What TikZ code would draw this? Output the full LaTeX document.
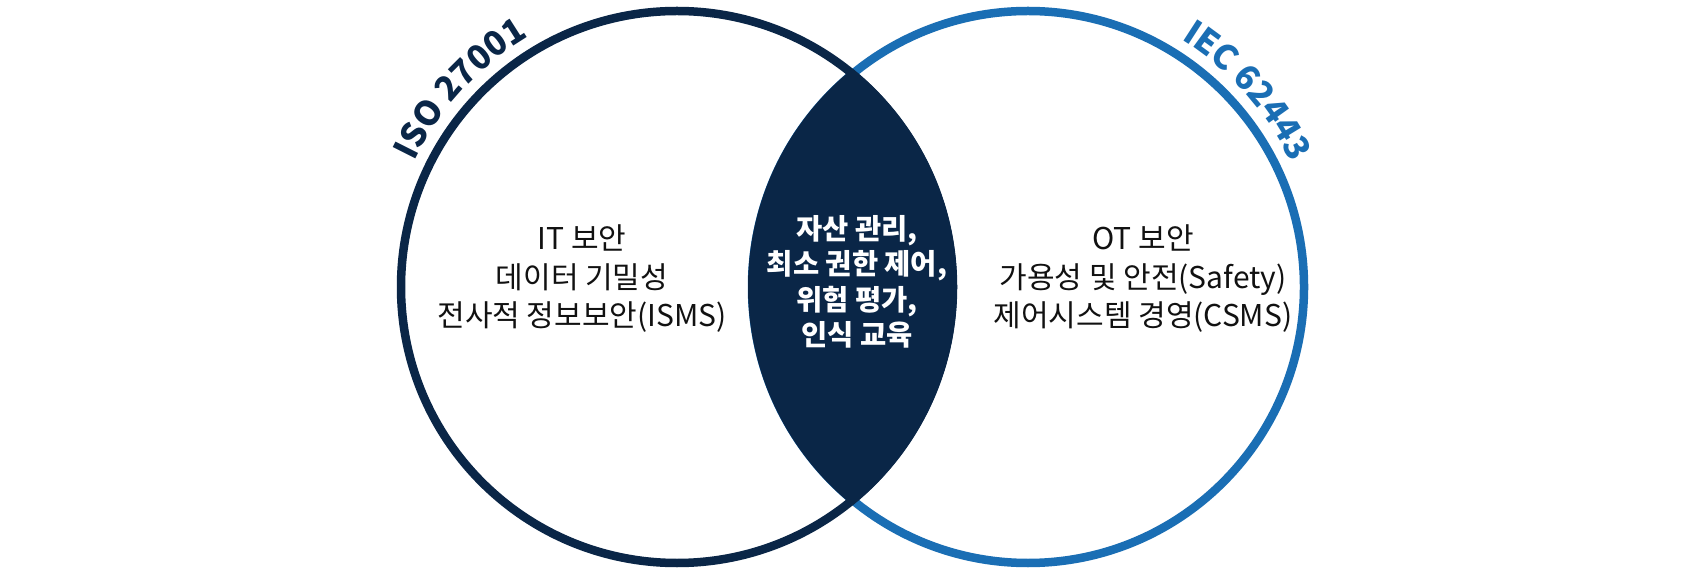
\documentclass[tikz,border=0pt]{standalone}
\usepackage{fontspec}
\setmainfont{Noto Sans CJK KR}
\usetikzlibrary{decorations.text}
\definecolor{navy}{HTML}{0A2647}
\definecolor{itblue}{HTML}{1A6EB4}
\definecolor{ink}{HTML}{111111}
\tikzset{
  ring/.style={circle, line width=8.5pt, minimum size=552pt, inner sep=0pt, fill=none},
  sidetext/.style={align=center, text=ink, font=\fontsize{30}{38.5}\selectfont, inner sep=0pt},
  midtext/.style={align=center, text=white, font=\bfseries\fontsize{28.5}{35.5}\selectfont, inner sep=0pt},
}
\begin{document}
\begin{tikzpicture}[x=1pt,y=1pt]
\useasboundingbox (0,0) rectangle (1707,576);
\fill[white] (0,0) rectangle (1707,576);
\node[ring, draw=itblue] (R) at (1028,289) {};
\node[ring, draw=navy] (L) at (677,289) {};
\begin{scope}
  \clip (L.center) circle[radius=280pt];
  \fill[navy] (R.center) circle[radius=280pt];
\end{scope}
\node[sidetext] (lt) at (582,297) {IT 보안\\데이터 기밀성\\전사적 정보보안(ISMS)};
\node[sidetext] (rt) at (1143,297) {OT 보안\\가용성 및 안전(Safety)\\제어시스템 경영(CSMS)};
\node[midtext] (mt) at (857,294) {자산 관리,\\최소 권한 제어,\\위험 평가,\\인식 교육};
\path[decorate, decoration={text along path, text align=center, text color=navy,
  text={|\bfseries\fontsize{34}{34}\selectfont|ISO 27001}}]
  ([shift={(165:291pt)}]L.center) arc[start angle=165, end angle=110, radius=291pt];
\path[decorate, decoration={text along path, text align=center, text color=itblue,
  text={|\bfseries\fontsize{34}{34}\selectfont|IEC 62443}}]
  ([shift={(69:291pt)}]R.center) arc[start angle=69, end angle=14.5, radius=291pt];
\end{tikzpicture}
\end{document}
